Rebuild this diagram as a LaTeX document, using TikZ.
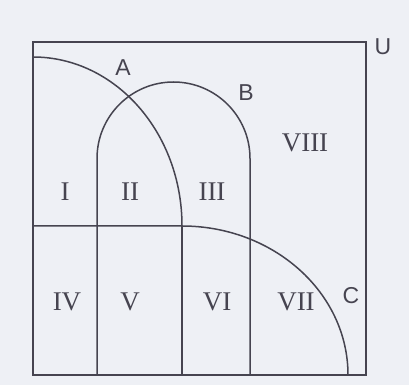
\documentclass[tikz,border=0pt]{standalone}
\usepackage{tikz}
\usepackage{fontspec}
\setmainfont{Liberation Serif}
\setsansfont{Liberation Sans}
\usetikzlibrary{positioning}
\definecolor{paper}{RGB}{238,240,245}
\definecolor{ink}{RGB}{70,68,80}

\begin{document}
\begin{tikzpicture}[x=1pt, y=1pt, line width=1.5pt,
    region/.style={font=\fontsize{27}{27}\selectfont, text=ink, inner sep=0pt},
    setname/.style={font=\sffamily\fontsize{23}{23}\selectfont, text=ink, inner sep=0pt}]
    \fill[paper] (0,0) rectangle (409,385);
    \useasboundingbox (0,0) rectangle (409,385);
    % universe
    \draw[ink] (33,10) rectangle (366,343);
    % set A
    \draw[ink] (33,328) arc[start angle=90, end angle=0, x radius=149, y radius=169];
    \draw[ink] (182,159) -- (182,10);
    % set B
    \draw[ink] (97,10) -- (97,226.5) arc[start angle=180, end angle=0, radius=76.5] -- (250,10);
    % set C
    \draw[ink] (33,159) -- (182,159) arc[start angle=90, end angle=0, x radius=166, y radius=149];
    % labels
    \node[setname] (lblA) at (123,317) {A};
    \node[setname] (lblB) at (246,292) {B};
    \node[setname] (lblC) at (351,89) {C};
    \node[setname] (lblU) at (383,338) {U};
    \node[region] (r1) at (65,193) {I};
    \node[region] (r2) at (130,193) {II};
    \node[region] (r3) at (212,193) {III};
    \node[region] (r8) at (305,242) {VIII};
    \node[region] (r4) at (67,83) {IV};
    \node[region] (r5) at (130,83) {V};
    \node[region] (r6) at (217,83) {VI};
    \node[region] (r7) at (296,83) {VII};
\end{tikzpicture}
\end{document}
